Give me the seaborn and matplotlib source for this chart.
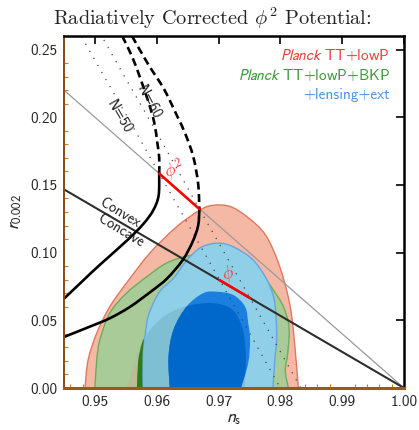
import numpy as np
import pandas as pd
import matplotlib
matplotlib.use("Agg")
import matplotlib.pyplot as plt
from matplotlib.path import Path
from matplotlib.patches import PathPatch
import seaborn as sns

# ---------------- data ----------------
red95_ns = [0.9484, 0.9489, 0.9503, 0.9524, 0.9551, 0.9589, 0.9632, 0.9670, 0.9692, 0.9719,
            0.9746, 0.9776, 0.9799, 0.9816, 0.9824, 0.9829]
red95_r = [0.0, 0.0207, 0.0406, 0.0600, 0.0775, 0.0997, 0.1190, 0.1315, 0.1350, 0.1340,
           0.1265, 0.1130, 0.0896, 0.0600, 0.0280, 0.0]

green95_ns = [0.9500, 0.9503, 0.9508, 0.9524, 0.9551, 0.9584, 0.9616, 0.9650, 0.9684, 0.9716,
              0.9749, 0.9776, 0.9792, 0.9805, 0.9814, 0.9812, 0.9808, 0.9813]
green95_r = [0.0, 0.0207, 0.0355, 0.0553, 0.0700, 0.0822, 0.0923, 0.0975, 0.0993, 0.0975,
             0.0900, 0.0800, 0.0700, 0.0600, 0.0450, 0.0260, 0.0130, 0.0]

red68_ns = [0.9551, 0.9573, 0.9589, 0.9611, 0.9638, 0.9665, 0.9695, 0.9722, 0.9738, 0.9744, 0.9742]
red68_r = [0.0, 0.0305, 0.0428, 0.0527, 0.0590, 0.0620, 0.0625, 0.0580, 0.0450, 0.0250, 0.0]

green68_ns = [0.9568, 0.9570, 0.9576, 0.9582, 0.9600, 0.9625, 0.9660, 0.9700, 0.9735, 0.9755,
              0.9760, 0.9758]
green68_r = [0.0, 0.0200, 0.0330, 0.0380, 0.0460, 0.0530, 0.0580, 0.0580, 0.0520, 0.0350,
             0.0150, 0.0]

blue95_ns = [0.9578, 0.9578, 0.9581, 0.9586, 0.9597, 0.9608, 0.9627, 0.9649, 0.9672, 0.9700,
             0.9725, 0.9755, 0.9777, 0.9789, 0.9793, 0.9794, 0.9791, 0.9788]
blue95_r = [0.0, 0.0230, 0.0380, 0.0527, 0.0650, 0.0730, 0.0810, 0.0945, 0.1040, 0.1070,
            0.1040, 0.0950, 0.0810, 0.0674, 0.0527, 0.0355, 0.0207, 0.0]

blue68_ns = [0.9621, 0.9619, 0.9627, 0.9648, 0.9675, 0.9697, 0.9724, 0.9743, 0.9748, 0.9751,
             0.9748, 0.9736]
blue68_r = [0.0, 0.0230, 0.0430, 0.0600, 0.0700, 0.0711, 0.0687, 0.0600, 0.0480, 0.0355,
            0.0184, 0.0]

# radiatively corrected phi^2, N = 50 / N = 60
n50_dash_ns = [0.9544, 0.9560, 0.9574, 0.9587, 0.9596, 0.9601, 0.9604, 0.9604]
n50_dash_r = [0.2600, 0.2450, 0.2280, 0.2107, 0.1960, 0.1810, 0.1700, 0.1584]
n50_solid_ns = [0.9604, 0.9603, 0.9594, 0.9578, 0.9552, 0.9508, 0.9480, 0.9450]
n50_solid_r = [0.1584, 0.1420, 0.1310, 0.1210, 0.1090, 0.0910, 0.0790, 0.0660]

n60_dash_ns = [0.9560, 0.9585, 0.9612, 0.9633, 0.9646, 0.9659, 0.9667, 0.9669]
n60_dash_r = [0.2600, 0.2400, 0.2206, 0.2009, 0.1880, 0.1710, 0.1510, 0.1322]
n60_solid_ns = [0.9669, 0.9667, 0.9658, 0.9642, 0.9617, 0.9594, 0.9557, 0.9524, 0.9490, 0.9450]
n60_solid_r = [0.1322, 0.1200, 0.1080, 0.0945, 0.0810, 0.0724, 0.0600, 0.0515, 0.0450, 0.0377]

# phi^p lines for N = 50 and N = 60 (dotted)
dot50_ns = [0.9459, 0.9507, 0.9556, 0.9604, 0.9653, 0.9702, 0.9751, 0.9800]
dot50_r = [0.2752, 0.2365, 0.1975, 0.1584, 0.1191, 0.0796, 0.0399, 0.0]
dot60_ns = [0.9508, 0.9548, 0.9589, 0.9629, 0.9669, 0.9710, 0.9751, 0.9792, 0.9833]
dot60_r = [0.2623, 0.2300, 0.1975, 0.1650, 0.1322, 0.0994, 0.0664, 0.0333, 0.0]

# straight reference lines
phi2line_ns = [0.945, 1.0]
phi2line_r = [0.220, 0.0]
convex_ns = [0.945, 1.0]
convex_r = [0.1467, 0.0]

# red N=50..60 segments
seg_phi2_ns = [0.9604, 0.9669]
seg_phi2_r = [0.1584, 0.1322]
seg_phi_ns = [0.9702, 0.9751]
seg_phi_r = [0.0796, 0.0664]

xticks = [0.95, 0.96, 0.97, 0.98, 0.99, 1.00]
yticks = [0.00, 0.05, 0.10, 0.15, 0.20, 0.25]

# ---------------- figure ----------------
sns.set_theme(style="white")
plt.rcParams['font.family'] = ['cmss10', 'DejaVu Sans']
plt.rcParams['axes.unicode_minus'] = False

fig = plt.figure(figsize=(4.19, 4.30), dpi=100)
ax = fig.add_axes([64/419, 42/430, 340/419, 352/430])


def smooth_path(ns, r, close=False):
    """Bezier path running smoothly through the read points."""
    pts = np.column_stack([ns, r]).astype(float)
    n = len(pts)
    verts = [pts[0]]
    codes = [Path.MOVETO]
    for i in range(n - 1):
        p0 = pts[i - 1] if i > 0 else pts[i]
        p1 = pts[i]
        p2 = pts[i + 1]
        p3 = pts[i + 2] if i + 2 < n else pts[i + 1]
        verts += [p1 + (p2 - p0) / 6.0, p2 - (p3 - p1) / 6.0, p2]
        codes += [Path.CURVE4] * 3
    if close:
        verts.append(pts[0])
        codes.append(Path.CLOSEPOLY)
    return Path(np.array(verts), codes)


def fill(ns, r, face, edge=None, z=1, clip=None):
    p = PathPatch(smooth_path(ns, r, close=True), facecolor=face,
                  edgecolor=edge if edge else 'none', linewidth=1.0 if edge else 0,
                  zorder=z, transform=ax.transData)
    ax.add_patch(p)
    if clip is not None:
        p.set_clip_path(clip)
    return p


def curve(ns, r, color, lw, z, dashed=False):
    p = PathPatch(smooth_path(ns, r), facecolor='none', edgecolor=color, linewidth=lw,
                  zorder=z, capstyle='butt', transform=ax.transData)
    if dashed:
        p.set_linestyle((0, (3.0, 1.7)))
    ax.add_patch(p)
    return p


fill(red95_ns, red95_r, '#F4B8A5', '#E2775F', z=1)
fill(green95_ns, green95_r, '#A9CB98', '#6AAE5C', z=2)
fill(red68_ns, red68_r, '#B8BC97', None, z=3)
fill(green68_ns, green68_r, '#2A7D14', None, z=4)
b95 = fill(blue95_ns, blue95_r, '#8FCFE7', '#63A6E5', z=5)
fill(red68_ns, red68_r, '#7EBFD3', None, z=6, clip=b95)
b68 = fill(blue68_ns, blue68_r, '#1B7FE0', None, z=7)
fill(red68_ns, red68_r, '#0068CB', None, z=8, clip=b68)


def line(ns, r, color, lw, z, dashes=None):
    sns.lineplot(x=ns, y=r, sort=False, estimator=None, color=color, lw=lw, ax=ax, zorder=z)
    ln = ax.lines[-1]
    if dashes is not None:
        ln.set_dashes(dashes)
    return ln


line(dot50_ns, dot50_r, '#444444', 0.9, 10, dashes=(1, 5.5))
line(dot60_ns, dot60_r, '#444444', 0.9, 10, dashes=(1, 5.5))
line(phi2line_ns, phi2line_r, '#9A9A9A', 0.9, 11)
line(convex_ns, convex_r, '#2E2E2E', 1.5, 11)
curve(n50_dash_ns, n50_dash_r, 'black', 1.9, 12, dashed=True)
curve(n60_dash_ns, n60_dash_r, 'black', 1.9, 12, dashed=True)
curve(n50_solid_ns, n50_solid_r, 'black', 1.9, 12)
curve(n60_solid_ns, n60_solid_r, 'black', 1.9, 12)
line(seg_phi2_ns, seg_phi2_r, '#FF0000', 1.9, 13)
line(seg_phi_ns, seg_phi_r, '#FF0000', 1.9, 13)

# ---------------- annotations ----------------
ax.text(0.9540, 0.2004, 'N=50', rotation=-60, ha='center', va='center', fontsize=10.5,
        color='#222222', zorder=14)
ax.text(0.9587, 0.2112, 'N=60', rotation=-62, ha='center', va='center', fontsize=10.5,
        color='#222222', zorder=14)
ax.text(0.9541, 0.1292, 'Convex', rotation=-31, ha='center', va='center', fontsize=10.5,
        color='#222222', zorder=14)
ax.text(0.9542, 0.1160, 'Concave', rotation=-31, ha='center', va='center', fontsize=10.5,
        color='#222222', zorder=14)
ax.text(0.9628, 0.1610, r'$\phi^2$', rotation=20, ha='center', va='center', fontsize=13,
        color='#FF3B3B', zorder=14, math_fontfamily='cm')
ax.text(0.9716, 0.0845, r'$\phi$', rotation=20, ha='center', va='center', fontsize=13,
        color='#FF3B3B', zorder=14, math_fontfamily='cm')

leg_x = (390 - 64) / 340
ax.text(leg_x, (388 - 55) / 352, r'$\mathit{Planck}$ TT+lowP', transform=ax.transAxes,
        ha='right', va='center', fontsize=11, color='#E8413A', zorder=15,
        math_fontfamily='stixsans')
ax.text(leg_x, (388 - 75) / 352, r'$\mathit{Planck}$ TT+lowP+BKP', transform=ax.transAxes,
        ha='right', va='center', fontsize=11, color='#3A9A3A', zorder=15,
        math_fontfamily='stixsans')
ax.text(leg_x, (388 - 95) / 352, '+lensing+ext', transform=ax.transAxes,
        ha='right', va='center', fontsize=11, color='#4A90E8', zorder=15)

# ---------------- axes styling ----------------
ax.set_xlim(0.945, 1.0)
ax.set_ylim(0.0, 0.26)
ax.set_xticks(xticks)
ax.set_yticks(yticks)
ax.set_xticklabels([f'{v:.2f}' for v in xticks])
ax.set_yticklabels([f'{v:.2f}' for v in yticks])
ax.set_xticks(np.arange(0.946, 1.0, 0.002), minor=True)
ax.set_yticks(np.arange(0.01, 0.26, 0.01), minor=True)
ax.tick_params(which='major', direction='in', length=6, width=1.2, color='black',
               top=True, right=True, labelsize=11, pad=5)
ax.tick_params(which='minor', direction='in', length=3, width=0.8, color='#E07B00',
               top=False, right=False, bottom=True, left=True)
for s in ['top', 'right']:
    ax.spines[s].set_color('black')
    ax.spines[s].set_linewidth(1.8)
ax.spines['left'].set_color('#8A4A12')
ax.spines['left'].set_linewidth(1.4)
ax.spines['bottom'].set_color('#9A5A16')
ax.spines['bottom'].set_linewidth(2.2)
for s in ax.spines.values():
    s.set_zorder(20)

ax.set_xlabel(r'$n_{\rm s}$', fontsize=13, labelpad=2, math_fontfamily='stixsans')
ax.set_ylabel(r'$r_{0.002}$', fontsize=13, labelpad=4, math_fontfamily='stixsans')
fig.text(0.507, 1 - 18 / 430, r'Radiatively Corrected $\phi^2$ Potential:', fontsize=14.6,
         ha='center', va='center', family='cmr10', math_fontfamily='cm', color='#222222')

fig.savefig('out.png', dpi=100)
